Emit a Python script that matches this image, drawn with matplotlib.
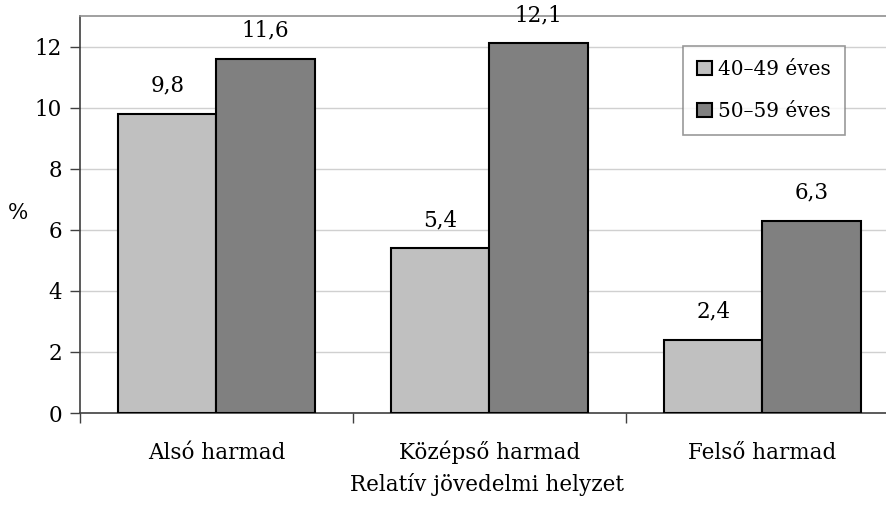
import matplotlib
matplotlib.use("Agg")
import matplotlib.pyplot as plt
import numpy as np

categories = ["Alsó harmad", "Középső harmad", "Felső harmad"]
series_names = ["40–49 éves", "50–59 éves"]
values_40 = [9.8, 5.4, 2.4]
values_50 = [11.6, 12.1, 6.3]
yticks = [0, 2, 4, 6, 8, 10, 12]

W, H = 887, 507
fig = plt.figure(figsize=(W / 100, H / 100), dpi=100)
plt.rcParams['font.family'] = ['DejaVu Serif']

left, right, top, bottom = 80, 899, 16, 413
ax = fig.add_axes([left / W, 1 - bottom / H, (right - left) / W, (bottom - top) / H])

x = np.arange(len(categories))
bw = 0.36
colors = ["#c0c0c0", "#808080"]
b1 = ax.bar(x - bw / 2, values_40, bw, color=colors[0], edgecolor="black", linewidth=1.5, zorder=3, label=series_names[0])
b2 = ax.bar(x + bw / 2, values_50, bw, color=colors[1], edgecolor="black", linewidth=1.5, zorder=3, label=series_names[1])

fs = 15.5
for bars, vals in ((b1, values_40), (b2, values_50)):
    for r, v in zip(bars, vals):
        ax.text(r.get_x() + r.get_width() / 2, v + 0.92, f"{v:.1f}".replace(".", ","),
                ha="center", va="center", fontsize=fs)

ax.set_xlim(-0.5, 2.5)
ax.set_ylim(0, 13)
ax.set_yticks(yticks)
ax.set_yticklabels([str(t) for t in yticks], fontsize=fs)
ax.yaxis.grid(True, color="#d0d0d0", linewidth=1, zorder=0)
ax.set_axisbelow(True)

ax.set_xticks([-0.5, 0.5, 1.5, 2.5])
ax.set_xticklabels([])
ax.tick_params(axis="x", length=7, width=1, color="#404040", direction="out")
ax.tick_params(axis="y", length=7, width=1, color="#404040", direction="out", pad=6)
for i, c in enumerate(categories):
    ax.text(i, -1.3, c, ha="center", va="center", fontsize=fs)

ax.spines["left"].set_color("#404040")
ax.spines["bottom"].set_color("#404040")
ax.spines["top"].set_color("#909090")
ax.spines["right"].set_visible(False)
for s in ax.spines.values():
    s.set_linewidth(1.2)

fig.text(18 / W, 1 - 213 / H, "%", ha="center", va="center", fontsize=fs)
fig.text(487 / W, 1 - 485 / H, "Relatív jövedelmi helyzet", ha="center", va="center", fontsize=fs)

leg = fig.legend(handles=[b1, b2], labels=series_names, loc="upper left",
                 bbox_to_anchor=(683 / W, 1 - 46 / H), borderaxespad=0, fontsize=14.4, frameon=True,
                 fancybox=False, edgecolor="#808080", handlelength=0.75, handleheight=0.75,
                 handletextpad=0.3, labelspacing=1.15, borderpad=0.7)
leg.get_frame().set_linewidth(1.2)

fig.savefig("out.png", dpi=100)
